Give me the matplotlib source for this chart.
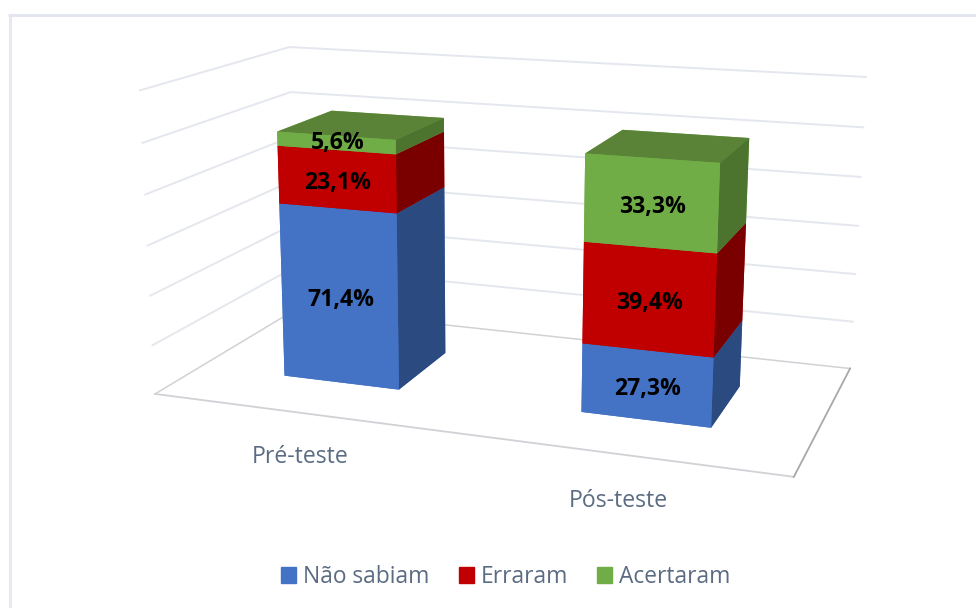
import numpy as np
import matplotlib
matplotlib.use('Agg')
import matplotlib.pyplot as plt
from matplotlib.lines import Line2D
from matplotlib.patches import Patch
from mpl_toolkits.mplot3d import proj3d

categorias = ['Pré-teste', 'Pós-teste']
series = ['Não sabiam', 'Erraram', 'Acertaram']
nao_sabiam = [71.4, 27.3]
erraram = [23.1, 39.4]
acertaram = [5.6, 33.3]
ticks_z = [0, 20, 40, 60, 80, 100, 120]

# frente, lado, topo
cores = {'Não sabiam': ('#4472C4', '#2B4A80', '#37609F'),
         'Erraram': ('#C00000', '#7A0000', '#9A0000'),
         'Acertaram': ('#70AD47', '#4C742F', '#5A8338')}
cor_texto = '#5A6B82'
cor_grade = '#E4E7EE'
cor_chao = '#D0D2D6'

plt.rcParams['font.family'] = ['Open Sans', 'DejaVu Sans']

fig = plt.figure(figsize=(9.76, 6.08), dpi=100)
W, H = 976, 608
lado = 878.64
ax = fig.add_axes([27.34 / W, -91.02 / H, lado / W, lado / H], projection='3d')
ax.computed_zorder = False
ax.set_axis_off()
ax.patch.set_alpha(0)

# moldura da imagem
fig.add_artist(Line2D([9.5 / W, 9.5 / W], [0, 1 - 14 / H], color='#E6E9F0', lw=2.2, solid_capstyle='butt'))
fig.add_artist(Line2D([8 / W, 1], [1 - 15 / H, 1 - 15 / H], color='#E3E6EE', lw=2.2, solid_capstyle='butt'))

# paredes
for z in ticks_z[1:]:
    ax.plot([0, 0, 2], [0, 1, 1], [z, z, z], color=cor_grade, lw=1.4, zorder=1)
# chao
ax.plot([0, 2], [0, 0], [0, 0], color=cor_chao, lw=1.3, zorder=1)
ax.plot([0, 0, 2], [0, 1, 1], [0, 0, 0], color=cor_chao, lw=1.1, zorder=1)
ax.plot([2, 2], [0, 1], [0, 0], color='#A8A8A8', lw=1.3, zorder=1)

largura = 0.4
y0, prof = 0.3, 0.4
x_rotulos = [0.662, 1.596]
valores = [nao_sabiam, erraram, acertaram]
for i, cat in enumerate(categorias):
    base = 0
    x = i + 0.5 - largura / 2
    for j, nome in enumerate(series):
        frente, lateral, topo = cores[nome]
        v = valores[j][i]
        # ordem das faces: -z, +z, -y, +y, -x, +x
        ax.bar3d(x, y0, base, largura, prof, v, shade=False,
                 color=[frente, topo, frente, frente, frente, lateral],
                 edgecolor='none', zorder=2 + j + 3 * i)
        base += v

ax.view_init(elev=14.404, azim=-69.661, roll=0.064)
ax.set_proj_type('persp', focal_length=0.3675)
ax.set_box_aspect((2.0882, 1.0457, 1))
ax.set_xlim(1.1668 - 1, 1.1668 + 1)
ax.set_ylim(-0.2362 - 0.5, -0.2362 + 0.5)
ax.set_zlim(79.13 - 60, 79.13 + 60)
ax.set_xticks([])
ax.set_yticks([])
ax.set_zticks([])

# textos em 2D, no ponto projetado da camera
M = ax.get_proj()


def texto(x, y, z, s, **kw):
    u, v, _ = proj3d.proj_transform(x, y, z, M)
    ax.text2D(u, v, s, transform=ax.transData, ha='center', va='center', zorder=20, **kw)


for i, cat in enumerate(categorias):
    base = 0
    for j in range(len(series)):
        v = valores[j][i]
        ajuste = 1.5 if v > 10 else 0.2
        texto(i + 0.505, y0, base + v / 2 - ajuste, f'{v:.1f}%'.replace('.', ','),
              fontsize=16.6, fontweight='bold', color='black')
        base += v
    texto(x_rotulos[i], -0.33, 0, cat, fontsize=16.6, color=cor_texto)

handles = [Patch(color=cores[n][0], label=n) for n in series]
fig.legend(handles=handles, ncol=3, loc='center', bbox_to_anchor=(506 / W, 1 - 577 / H), frameon=False,
           fontsize=16.4, labelcolor=cor_texto, handlelength=0.65, handleheight=0.65, handletextpad=0.32,
           columnspacing=1.27)

fig.savefig('out.png', dpi=100)
